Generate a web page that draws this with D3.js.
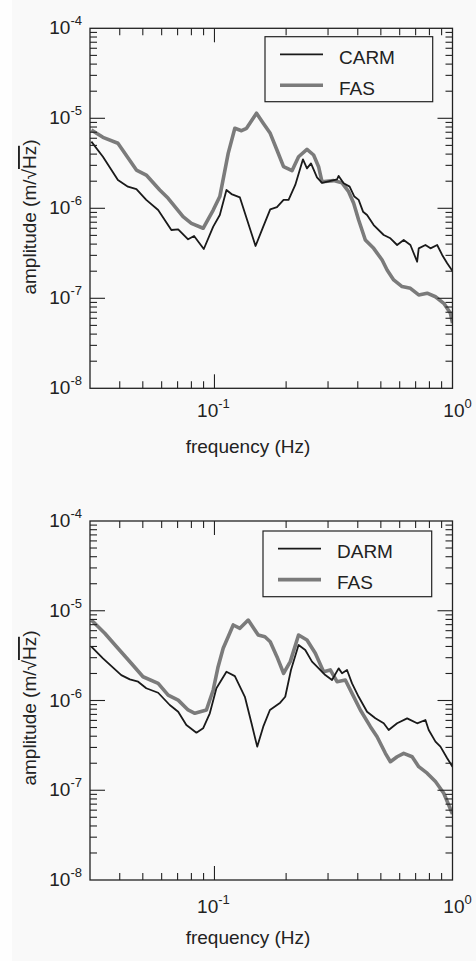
<!DOCTYPE html>
<html>
<head>
<meta charset="utf-8">
<script src="https://cdn.jsdelivr.net/npm/d3@7"></script>
<style>
body { margin: 0; background: #f9f9f9; }
svg { display: block; font-family: "Liberation Sans", Arial, Helvetica, sans-serif; }
</style>
</head>
<body>
<svg id="chart" width="476" height="961"></svg>
<script>
// ---- data ----
// top panel: CARM vs FAS
var carmFreq = [0.0304,0.0340,0.0393,0.0433,0.0470,0.0517,0.0580,0.0659,0.0704,0.0775,0.0821,0.0902,0.0988,0.1053,0.1123,0.1179,0.1279,0.1488,0.1603,0.1715,0.1830,0.1951,0.2048,0.2185,0.2354,0.2447,0.2544,0.2696,0.2830,0.3273,0.3324,0.3489,0.3697,0.3870,0.4034,0.4209,0.4376,0.4665,0.5141,0.5484,0.5853,0.6237,0.6656,0.7103,0.7213,0.7697,0.8082,0.8621,0.9049,0.950,1.0];
var carmAmp = [5.5e-6,3.74e-6,2.06e-6,1.74e-6,1.63e-6,1.24e-6,9.57e-7,5.74e-7,5.84e-7,4.52e-7,4.92e-7,3.53e-7,6.25e-7,8.42e-7,1.60e-6,1.44e-6,1.32e-6,3.81e-7,6.25e-7,9.75e-7,1.03e-6,1.24e-6,1.24e-6,1.82e-6,3.50e-6,2.78e-6,3.16e-6,2.21e-6,1.92e-6,2.10e-6,2.29e-6,1.90e-6,1.74e-6,1.35e-6,1.24e-6,9.17e-7,8.42e-7,6.52e-7,5.05e-7,4.64e-7,3.91e-7,4.44e-7,3.91e-7,2.55e-7,3.59e-7,3.91e-7,3.59e-7,3.91e-7,3.03e-7,2.45e-7,2.01e-7];

var fasTopFreq = [0.0304,0.0340,0.0393,0.0470,0.0517,0.0589,0.0639,0.0738,0.0800,0.0896,0.0988,0.1053,0.1142,0.1218,0.1299,0.1364,0.1502,0.1603,0.1715,0.1830,0.1951,0.2117,0.2256,0.2447,0.2609,0.2738,0.2830,0.3167,0.3435,0.3662,0.3844,0.4034,0.4304,0.4665,0.5062,0.5312,0.5662,0.6140,0.6656,0.7213,0.7825,0.8480,0.9190,0.9806,1.0];
var fasTopAmp = [7.41e-6,6.15e-6,5.28e-6,2.66e-6,2.34e-6,1.60e-6,1.29e-6,8.07e-7,6.81e-7,6.00e-7,9.57e-7,1.35e-6,4.08e-6,7.74e-6,7.28e-6,7.74e-6,1.14e-5,8.80e-6,6.81e-6,4.44e-6,2.90e-6,2.62e-6,3.74e-6,4.52e-6,3.91e-6,2.90e-6,1.97e-6,2.03e-6,1.92e-6,1.53e-6,1.14e-6,7.41e-7,4.44e-7,3.59e-7,2.66e-7,2.06e-7,1.60e-7,1.35e-7,1.29e-7,1.09e-7,1.14e-7,1.04e-7,8.80e-8,6.81e-8,5.31e-8];

// bottom panel: DARM vs FAS
var darmFreq = [0.0304,0.0340,0.0406,0.0441,0.0478,0.0517,0.0580,0.0649,0.0704,0.0762,0.0840,0.0896,0.0956,0.1019,0.1123,0.1218,0.1342,0.1431,0.1512,0.1603,0.1710,0.1889,0.1983,0.2096,0.2256,0.2407,0.2569,0.2696,0.2921,0.3118,0.3324,0.3435,0.3605,0.3784,0.4034,0.4376,0.4742,0.5141,0.5394,0.5853,0.6448,0.7103,0.7697,0.7945,0.8480,0.8900,0.950,1.0];
var darmAmp = [3.98e-6,2.95e-6,1.92e-6,1.72e-6,1.62e-6,1.37e-6,1.22e-6,8.91e-7,7.50e-7,5.33e-7,4.38e-7,4.90e-7,7.20e-7,1.37e-6,2.09e-6,1.87e-6,1.10e-6,5.57e-7,3.06e-7,5.11e-7,7.84e-7,9.45e-7,1.10e-6,2.19e-6,4.15e-6,3.65e-6,2.71e-6,2.38e-6,1.92e-6,1.69e-6,2.28e-6,2.01e-6,2.19e-6,1.55e-6,1.10e-6,7.50e-7,6.33e-7,5.57e-7,4.69e-7,5.57e-7,6.33e-7,5.57e-7,6.06e-7,4.69e-7,3.48e-7,3.06e-7,2.27e-7,1.83e-7];

var fasBotFreq = [0.0304,0.0346,0.0393,0.0447,0.0501,0.0580,0.0639,0.0704,0.0775,0.0827,0.0925,0.0988,0.1036,0.1088,0.1142,0.1199,0.1279,0.1386,0.1527,0.1629,0.1715,0.1830,0.1951,0.2082,0.2256,0.2447,0.2653,0.2873,0.3067,0.3273,0.3547,0.3784,0.4101,0.4519,0.4821,0.5225,0.5484,0.5853,0.6237,0.6767,0.7213,0.7825,0.8480,0.9190,1.0];
var fasBotAmp = [7.88e-6,5.61e-6,3.82e-6,2.60e-6,1.84e-6,1.55e-6,1.15e-6,1.01e-6,7.84e-7,7.20e-7,7.84e-7,1.31e-6,2.38e-6,3.82e-6,5.14e-6,6.94e-6,6.37e-6,7.88e-6,5.37e-6,5.14e-6,4.52e-6,3.08e-6,2.01e-6,2.71e-6,5.37e-6,4.72e-6,3.36e-6,2.09e-6,2.19e-6,1.62e-6,1.69e-6,1.20e-6,7.84e-7,5.11e-7,3.95e-7,2.58e-7,2.08e-7,2.36e-7,2.58e-7,2.36e-7,1.83e-7,1.55e-7,1.25e-7,9.25e-8,5.44e-8];

// axis labels
var xDomain = [0.03, 1];
var yDomain = [1e-8, 1e-4];
var xDecades = [0.1, 1];
var xDecadeExp = ["-1", "0"];
var yDecades = [1e-8, 1e-7, 1e-6, 1e-5, 1e-4];
var yDecadeExp = ["-8", "-7", "-6", "-5", "-4"];

// ---- layout ----
var svg = d3.select("#chart");
var left = 90, right = 452.5;

svg.append("rect").attr("x", 0).attr("y", 0).attr("width", 12).attr("height", 961).attr("fill", "#fefefe");

var panels = [
  { top: 28.3, bottom: 388.3, name: "CARM", refF: carmFreq, refA: carmAmp, fasF: fasTopFreq, fasA: fasTopAmp,
    legend: [265, 432.7, 36.7, 101.7], tickLabelY: 417, xLabelY: 453, yLabelY: 217 },
  { top: 521, bottom: 880, name: "DARM", refF: darmFreq, refA: darmAmp, fasF: fasBotFreq, fasA: fasBotAmp,
    legend: [263, 431.7, 531, 596.7], tickLabelY: 913, xLabelY: 943.5, yLabelY: 708 }
];

function isDecade(v) {
  var l = Math.log10(v);
  return Math.abs(l - Math.round(l)) < 1e-6;
}

panels.forEach(function(p, i) {
  var x = d3.scaleLog().domain(xDomain).range([left, right]);
  var y = d3.scaleLog().domain(yDomain).range([p.bottom, p.top]);
  var g = svg.append("g");

  // clip for the curves
  var clipId = "clip" + i;
  svg.append("clipPath").attr("id", clipId)
    .append("rect").attr("x", left).attr("y", p.top)
    .attr("width", right - left).attr("height", p.bottom - p.top);

  var line = d3.line()
    .x(function(d) { return x(d[0]); })
    .y(function(d) { return y(d[1]); });

  var fasData = p.fasF.map(function(f, k) { return [f, p.fasA[k]]; });
  var refData = p.refF.map(function(f, k) { return [f, p.refA[k]]; });

  var curves = g.append("g").attr("clip-path", "url(#" + clipId + ")");
  curves.append("path").datum(fasData)
    .attr("d", line).attr("fill", "none")
    .attr("stroke", "#7b7b7b").attr("stroke-width", 3.6)
    .attr("stroke-linejoin", "round");
  curves.append("path").datum(refData)
    .attr("d", line).attr("fill", "none")
    .attr("stroke", "#1a1a1a").attr("stroke-width", 1.8)
    .attr("stroke-linejoin", "round");

  // ticks, pointing inward on all four sides
  var tk = g.append("g").attr("stroke", "#222").attr("stroke-width", 1.1);
  x.ticks().forEach(function(t) {
    var px = x(t);
    if (px <= left + 0.5 || px >= right - 0.5) return;
    var len = isDecade(t) ? 14 : 7;
    tk.append("line").attr("x1", px).attr("x2", px).attr("y1", p.bottom).attr("y2", p.bottom - len);
    tk.append("line").attr("x1", px).attr("x2", px).attr("y1", p.top).attr("y2", p.top + len);
  });
  y.ticks().forEach(function(t) {
    var py = y(t);
    if (py <= p.top + 0.5 || py >= p.bottom - 0.5) return;
    var len = isDecade(t) ? 15 : 7;
    tk.append("line").attr("x1", left).attr("x2", left + len).attr("y1", py).attr("y2", py);
    tk.append("line").attr("x1", right).attr("x2", right - len).attr("y1", py).attr("y2", py);
  });

  // frame
  g.append("rect").attr("x", left).attr("y", p.top)
    .attr("width", right - left).attr("height", p.bottom - p.top)
    .attr("fill", "none").attr("stroke", "#222").attr("stroke-width", 1.3);

  // y tick labels
  yDecades.forEach(function(v, k) {
    var t = g.append("text").attr("x", 82).attr("y", y(v) + 6)
      .attr("text-anchor", "end").attr("font-size", 19).attr("fill", "#222");
    t.append("tspan").text("10");
    t.append("tspan").attr("dy", -9).attr("font-size", 13).text(yDecadeExp[k]);
  });

  // x tick labels
  xDecades.forEach(function(v, k) {
    var t = g.append("text").attr("x", x(v) + (k === 1 ? 5 : -1)).attr("y", p.tickLabelY)
      .attr("text-anchor", "middle").attr("font-size", 19).attr("fill", "#222");
    t.append("tspan").text("10");
    t.append("tspan").attr("dy", -9).attr("font-size", 13).text(xDecadeExp[k]);
  });

  // axis titles
  g.append("text").attr("x", 248).attr("y", p.xLabelY)
    .attr("text-anchor", "middle").attr("font-size", 19).attr("fill", "#222")
    .text("frequency (Hz)");

  var yl = g.append("text")
    .attr("transform", "translate(36," + p.yLabelY + ") rotate(-90)")
    .attr("text-anchor", "middle").attr("font-size", 19).attr("fill", "#222");
  yl.append("tspan").text("amplitude (m/\u221A");
  yl.append("tspan").style("text-decoration", "overline").text("Hz");
  yl.append("tspan").text(")");

  // legend
  var L = p.legend;
  var lg = g.append("g");
  lg.append("rect").attr("x", L[0]).attr("y", L[2])
    .attr("width", L[1] - L[0]).attr("height", L[3] - L[2])
    .attr("fill", "#f9f9f9").attr("stroke", "#222").attr("stroke-width", 1.2);
  var rowY = [L[2] + 17.6, L[2] + 48.6];
  lg.append("line").attr("x1", L[0] + 15).attr("x2", L[0] + 58).attr("y1", rowY[0]).attr("y2", rowY[0])
    .attr("stroke", "#1a1a1a").attr("stroke-width", 1.8);
  lg.append("line").attr("x1", L[0] + 15).attr("x2", L[0] + 58).attr("y1", rowY[1]).attr("y2", rowY[1])
    .attr("stroke", "#7b7b7b").attr("stroke-width", 3.6);
  lg.append("text").attr("x", L[0] + 74).attr("y", rowY[0] + 9.5)
    .attr("font-size", 19).attr("fill", "#222").text(p.name);
  lg.append("text").attr("x", L[0] + 74).attr("y", rowY[1] + 9.5)
    .attr("font-size", 19).attr("fill", "#222").text("FAS");
});
</script>
</body>
</html>
